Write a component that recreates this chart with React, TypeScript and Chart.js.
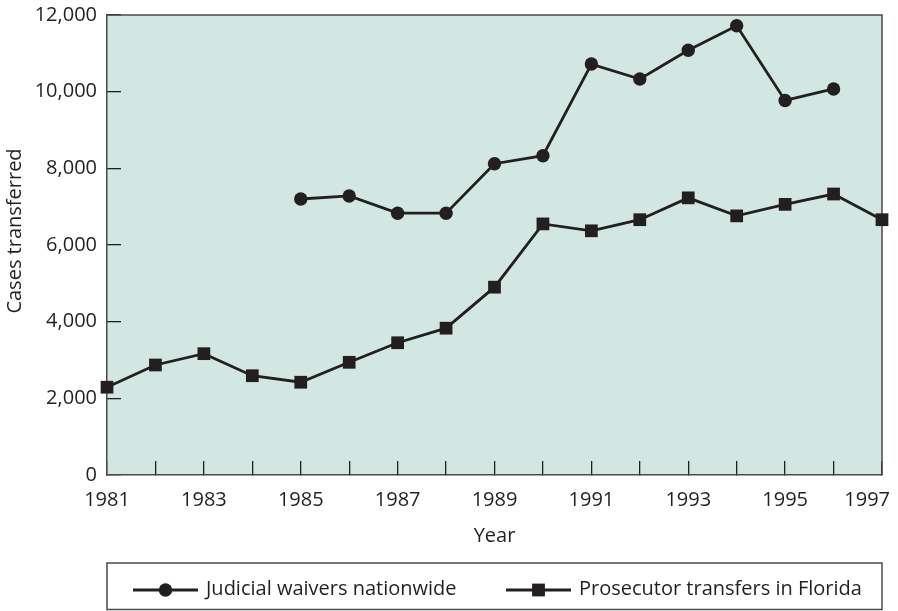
import React, { useEffect, useRef } from 'react';
import { Chart, registerables } from 'chart.js';

Chart.register(...registerables);

const years = ['1981', '1982', '1983', '1984', '1985', '1986', '1987', '1988', '1989', '1990', '1991', '1992', '1993', '1994', '1995', '1996', '1997'];
const judicialWaivers: (number | null)[] = [null, null, null, null, 7200, 7280, 6830, 6830, 8120, 8330, 10720, 10330, 11080, 11720, 9770, 10070, null];
const floridaTransfers = [2290, 2870, 3165, 2590, 2420, 2940, 3450, 3830, 4900, 6550, 6370, 6660, 7230, 6760, 7060, 7330, 6660];
const seriesNames = ['Judicial waivers nationwide', 'Prosecutor transfers in Florida'];
const yTitle = 'Cases transferred';
const xTitle = 'Year';

const FONT = '"Open Sans", sans-serif';
const FS = 20;
const INK = '#231f20';
const BG = '#d3e7e2';
const FRAME = '#4a4a4a';
const LW = 2.8;

const framePlugin = {
  id: 'frame',
  beforeDraw(chart: any) {
    const { ctx, chartArea: a } = chart;
    ctx.save();
    ctx.fillStyle = BG;
    ctx.fillRect(a.left, a.top, a.right - a.left, a.bottom - a.top);
    ctx.restore();
  },
  beforeDatasetsDraw(chart: any) {
    const { ctx, chartArea: a } = chart;
    ctx.save();
    ctx.strokeStyle = FRAME;
    ctx.lineWidth = 1.5;
    ctx.beginPath();
    ctx.moveTo(a.left, a.top);
    ctx.lineTo(a.right, a.top);
    ctx.lineTo(a.right, a.bottom);
    ctx.stroke();
    ctx.restore();
  },
  afterDraw(chart: any) {
    const { ctx } = chart;
    const xs = chart.scales.x;
    ctx.save();
    ctx.font = `${FS}px ${FONT}`;
    ctx.fillStyle = INK;

    // y axis title
    ctx.save();
    ctx.translate(15, 231);
    ctx.rotate(-Math.PI / 2);
    ctx.textAlign = 'center';
    ctx.textBaseline = 'middle';
    ctx.fillText(yTitle, 0, 0);
    ctx.restore();

    // last x tick label, pulled inside the canvas
    ctx.textBaseline = 'middle';
    ctx.textAlign = 'right';
    const lastX = xs.getPixelForTick(years.length - 1);
    ctx.fillText(years[years.length - 1], lastX + 8, 500.5);

    // legend box
    ctx.strokeStyle = FRAME;
    ctx.lineWidth = 1.5;
    ctx.strokeRect(107, 563, 775, 46.5);

    const drawItem = (x0: number, x1: number, label: string, style: string, r: number) => {
      const y = 590;
      ctx.strokeStyle = INK;
      ctx.lineWidth = LW;
      ctx.beginPath();
      ctx.moveTo(x0, y);
      ctx.lineTo(x1, y);
      ctx.stroke();
      ctx.fillStyle = INK;
      const cx = (x0 + x1) / 2;
      if (style === 'circle') {
        ctx.beginPath();
        ctx.arc(cx, y, r, 0, Math.PI * 2);
        ctx.fill();
      } else {
        ctx.fillRect(cx - r, y - r, 2 * r, 2 * r);
      }
      ctx.textAlign = 'left';
      ctx.textBaseline = 'middle';
      ctx.font = `${FS}px ${FONT}`;
      ctx.fillText(label, x1 + 8, 589);
    };
    drawItem(133, 198, seriesNames[0], 'circle', 6.7);
    drawItem(506, 571, seriesNames[1], 'rect', 6.4);
    ctx.restore();
  },
};

export default function App() {
  const ref = useRef<HTMLCanvasElement>(null);
  useEffect(() => {
    document.body.style.margin = '0';
    const chart = new Chart(ref.current as HTMLCanvasElement, {
      type: 'line',
      data: {
        labels: years,
        datasets: [
          {
            label: seriesNames[0],
            data: judicialWaivers,
            borderColor: INK,
            backgroundColor: INK,
            borderWidth: LW,
            pointStyle: 'circle',
            pointRadius: 6.7,
            pointBorderWidth: 0,
            pointBackgroundColor: INK,
            spanGaps: false,
            tension: 0,
            clip: false as any,
          },
          {
            label: seriesNames[1],
            data: floridaTransfers,
            borderColor: INK,
            backgroundColor: INK,
            borderWidth: LW,
            pointStyle: 'rect',
            pointRadius: 9.0,
            pointBorderWidth: 0,
            pointBackgroundColor: INK,
            tension: 0,
            clip: false as any,
          },
        ],
      },
      options: {
        animation: false,
        responsive: false,
        devicePixelRatio: 1,
        layout: { padding: { left: 0, right: 16, top: 15, bottom: 0 } },
        plugins: { legend: { display: false }, tooltip: { enabled: false } },
        scales: {
          x: {
            type: 'category',
            offset: false,
            grid: { display: true, drawOnChartArea: false, drawTicks: true, tickLength: -14, color: INK, lineWidth: 1.3 },
            border: { display: true, color: FRAME, width: 1.5 },
            ticks: {
              autoSkip: false,
              maxRotation: 0,
              minRotation: 0,
              padding: 27.5,
              color: INK,
              font: { family: FONT, size: FS },
              callback: (_v: any, i: number) => (i % 2 === 0 && i !== years.length - 1 ? years[i] : ''),
            },
            title: { display: true, text: xTitle, color: INK, font: { family: FONT, size: FS }, padding: { top: 0, bottom: 63 } },
            afterFit: (s: any) => {
              s.height = 136;
              s.paddingLeft = 0;
              s.paddingRight = 0;
            },
          },
          y: {
            min: 0,
            max: 12000,
            grid: { display: true, drawOnChartArea: false, drawTicks: true, tickLength: -14, color: INK, lineWidth: 1.3 },
            border: { display: true, color: FRAME, width: 1.5 },
            ticks: {
              stepSize: 2000,
              padding: 24,
              color: INK,
              font: { family: FONT, size: FS },
              callback: (v: any) => Number(v).toLocaleString('en-US'),
            },
            title: { display: false },
            afterFit: (s: any) => {
              s.width = 107;
              s.paddingTop = 0;
              s.paddingBottom = 0;
            },
          },
        },
      },
      plugins: [framePlugin],
    });
    return () => chart.destroy();
  }, []);
  return (
    <div style={{ position: 'absolute', left: 0, top: 0, width: 898, height: 611, background: '#fff' }}>
      <canvas ref={ref} width={898} height={611} style={{ width: 898, height: 611, display: 'block' }} />
    </div>
  );
}
